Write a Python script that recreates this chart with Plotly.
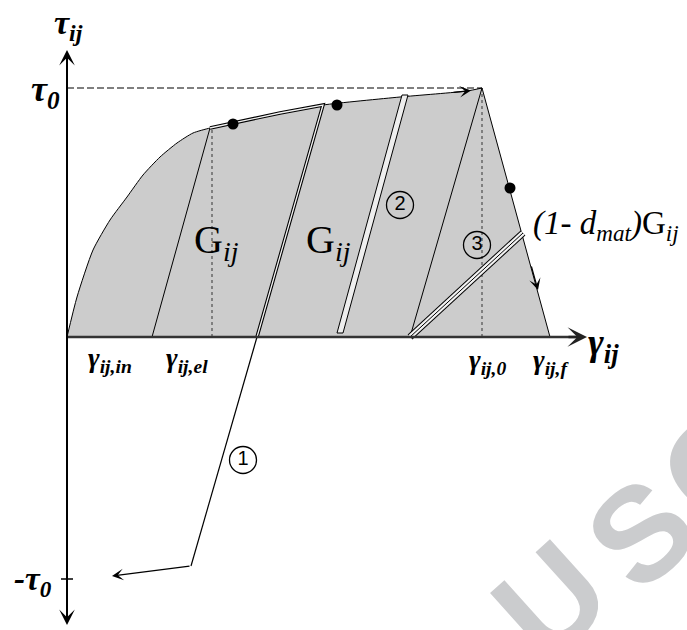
import plotly.graph_objects as go

# ---- data (gamma, tau in drawing units; origin at axis crossing) ----
curve_gamma = [0, 10, 26, 43, 60, 76, 93, 110, 126, 143, 166, 213, 256, 333, 400, 415]
curve_tau = [0, 40, 87, 117, 140, 162, 180, 194, 204, 209, 214, 224, 232, 240, 246, 249]

tau0 = 249
neg_tau0 = -242
gamma_el = 85
gamma_yield = 143
gamma_0 = 415
gamma_f = 483

# path 1 (unloading to negative stress)
p1_gamma = [256, 190, 124]
p1_tau = [232, 0, -229]
p1_end = (45, -239)

# path 2 (unloading band)
p2_gamma = [335, 341, 276, 270, 335]
p2_tau = [242, 242, 4, 4, 242]

# path 3 (damaged unloading)
p3_line_gamma = [415, 343]
p3_line_tau = [249, 0]
p3_dmg_gamma = [343, 456]
p3_dmg_tau = [0, 104]

dots_gamma = [166, 270, 443]
dots_tau = [213, 232, 149]

circ_gamma = [176, 333, 410]
circ_tau = [-123, 132, 92]
circ_text = ["1", "2", "3"]

serif = "Liberation Serif"

fig = go.Figure()

# filled area under hardening curve
fig.add_trace(go.Scatter(
    x=curve_gamma, y=curve_tau,
    fill="tozeroy", fillcolor="#cccccc", mode="lines",
    line=dict(color="black", width=1, shape="spline", smoothing=0.6),
    hoverinfo="skip", showlegend=False))
# softening branch
fig.add_trace(go.Scatter(x=[gamma_0, gamma_f], y=[tau0, 0], mode="lines",
                         fill="tozeroy", fillcolor="#cccccc",
                         line=dict(color="black", width=1), showlegend=False))

# dotted verticals
for g, t in [(gamma_yield + 2, 209), (gamma_0, tau0)]:
    fig.add_trace(go.Scatter(x=[g, g], y=[0, t], mode="lines",
                             line=dict(color="#333333", width=1, dash="dot"),
                             showlegend=False))

# dashed tau0 line
fig.add_trace(go.Scatter(x=[0, gamma_0], y=[tau0, tau0], mode="lines",
                         line=dict(color="black", width=1.2, dash="7px,3px"),
                         showlegend=False))

# elastic line G_ij
fig.add_trace(go.Scatter(x=[gamma_el, gamma_yield], y=[0, 209], mode="lines",
                         line=dict(color="black", width=1), showlegend=False))

# path 1 double line along curve and down
seg_g = [143, 166, 213, 256, 190]
seg_t = [209, 214, 224, 232, 0]
fig.add_trace(go.Scatter(x=seg_g, y=seg_t, mode="lines",
                         line=dict(color="black", width=3.5), showlegend=False))
fig.add_trace(go.Scatter(x=seg_g, y=seg_t, mode="lines",
                         line=dict(color="#f2f2f2", width=1.3), showlegend=False))
fig.add_trace(go.Scatter(x=p1_gamma[1:], y=p1_tau[1:], mode="lines",
                         line=dict(color="black", width=1.2), showlegend=False))

# path 2 band
fig.add_trace(go.Scatter(x=p2_gamma, y=p2_tau, mode="lines", fill="toself",
                         fillcolor="#eeeeee",
                         line=dict(color="black", width=1), showlegend=False))

# path 3
fig.add_trace(go.Scatter(x=p3_line_gamma, y=p3_line_tau, mode="lines",
                         line=dict(color="black", width=1), showlegend=False))
for w, c in [(7, "black"), (5, "#f2f2f2"), (1, "black")]:
    fig.add_trace(go.Scatter(x=p3_dmg_gamma, y=p3_dmg_tau, mode="lines",
                             line=dict(color=c, width=w), showlegend=False))

# x axis line
fig.add_trace(go.Scatter(x=[0, 515], y=[0, 0], mode="lines",
                         line=dict(color="#333333", width=2.5), showlegend=False))
# y axis line
fig.add_trace(go.Scatter(x=[0, 0], y=[-282, 282], mode="lines",
                         line=dict(color="black", width=2), showlegend=False))
# tick at -tau0
fig.add_trace(go.Scatter(x=[-6, 6], y=[neg_tau0, neg_tau0], mode="lines",
                         line=dict(color="black", width=1.5), showlegend=False))

# dots
fig.add_trace(go.Scatter(x=dots_gamma, y=dots_tau, mode="markers",
                         marker=dict(color="black", size=11), showlegend=False))

# numbered circles
fig.add_trace(go.Scatter(x=circ_gamma, y=circ_tau, mode="markers+text",
                         text=circ_text, textposition="middle center",
                         textfont=dict(family="Liberation Sans", size=20, color="black"),
                         marker=dict(symbol="circle-open", size=27,
                                     line=dict(color="black", width=1.3), color="black"),
                         showlegend=False))

def arrow(x0, y0, x1, y1, width=1.5, head=3, size=1.2, color="black"):
    fig.add_annotation(x=x1, y=y1, ax=x0, ay=y0, xref="x", yref="y",
                       axref="x", ayref="y", text="", showarrow=True,
                       arrowhead=head, arrowwidth=width, arrowsize=size,
                       arrowcolor=color, standoff=0, startstandoff=0)

arrow(500, 0, 520, 0, width=2.5, head=3, size=1.3, color="#222222")
arrow(0, 270, 0, 287, width=2, head=3, size=1.3)
arrow(0, -270, 0, -288, width=2, head=3, size=1.3)
arrow(p1_gamma[-1], p1_tau[-1], p1_end[0], p1_end[1], width=1.2, head=3, size=1.6)
arrow(385, 244.5, 404, 246.5, width=1.2, head=3, size=1.6)
arrow(464, 72, 471, 47, width=1.2, head=3, size=1.6)

def label(x, y, text, size, family=serif, color="black", xanchor="center"):
    fig.add_annotation(x=x, y=y, xref="x", yref="y", text=text, showarrow=False,
                       font=dict(family=family, size=size, color=color),
                       xanchor=xanchor, yanchor="middle")

label(1, 312, "<b><i>τ<sub>ij</sub></i></b>", 34)
label(-22, 246, "<b><i>τ<sub>0</sub></i></b>", 36)
label(-34, -244, "<b><i>-τ<sub>0</sub></i></b>", 33)
label(43, -22, "<b><i>γ<sub>ij,in</sub></i></b>", 28)
label(120, -22, "<b><i>γ<sub>ij,el</sub></i></b>", 28)
label(420, -24, "<b><i>γ<sub>ij,0</sub></i></b>", 28)
label(484, -24, "<b><i>γ<sub>ij,f</sub></i></b>", 28)
label(536, -8, "<b><i>γ<sub>ij</sub></i></b>", 38)
label(149, 95, "G<sub><i>ij</i></sub>", 40)
label(261, 95, "G<sub><i>ij</i></sub>", 40)
label(464, 112, "<i>(1- d<sub>mat</sub>)</i>G<sub><i>ij</i></sub>", 33, xanchor="left")

# watermark letters
for ch, px, py in [("U", 550, 600), ("S", 640, 533), ("C", 716, 466)]:
    fig.add_annotation(x=px / 687, y=1 - py / 630, xref="paper", yref="paper",
                       text="<b>" + ch + "</b>", showarrow=False, textangle=-42,
                       font=dict(family="Liberation Sans", size=134, color="#cbccce"),
                       xanchor="center", yanchor="middle")

fig.update_layout(
    width=687, height=630, margin=dict(l=0, r=0, t=0, b=0),
    paper_bgcolor="white", plot_bgcolor="white", showlegend=False,
    xaxis=dict(range=[-67, 620], visible=False, fixedrange=True),
    yaxis=dict(range=[-293, 337], visible=False, fixedrange=True),
)

fig.write_html("out.html", config={"displayModeBar": False},
               post_script="document.body.style.margin='0px';")
